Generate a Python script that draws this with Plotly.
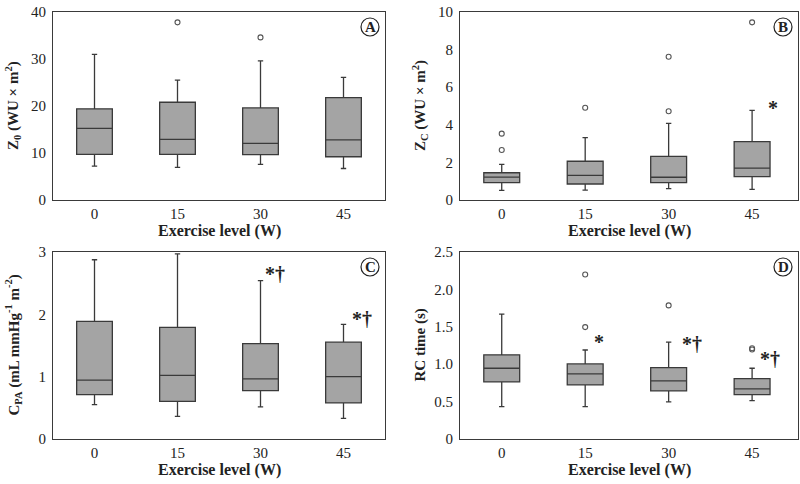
import plotly.graph_objects as go

# ---------------- data ----------------
categories = ["0", "15", "30", "45"]

# Panel A: Z0 (WU x m2)
a_low = [7.2, 6.95, 7.6, 6.7]
a_q1 = [9.7, 9.7, 9.65, 9.2]
a_med = [15.25, 12.9, 12.05, 12.8]
a_q3 = [19.4, 20.8, 19.6, 21.8]
a_high = [31.0, 25.5, 29.6, 26.1]
a_out_x = ["15", "30"]
a_out_y = [37.8, 34.6]

# Panel B: Zc (WU x m2)
b_low = [0.51, 0.53, 0.60, 0.57]
b_q1 = [0.92, 0.85, 0.92, 1.24]
b_med = [1.22, 1.31, 1.21, 1.70]
b_q3 = [1.45, 2.06, 2.32, 3.10]
b_high = [1.90, 3.32, 4.08, 4.77]
b_out_x = ["0", "0", "15", "30", "30", "45"]
b_out_y = [3.53, 2.66, 4.91, 7.62, 4.72, 9.45]

# Panel C: CPA (mL mmHg-1 m-2)
c_low = [0.552, 0.364, 0.514, 0.332]
c_q1 = [0.712, 0.605, 0.777, 0.578]
c_med = [0.943, 1.02, 0.964, 1.00]
c_q3 = [1.886, 1.79, 1.53, 1.553]
c_high = [2.876, 2.97, 2.54, 1.84]

# Panel D: RC time (s)
d_low = [0.433, 0.433, 0.496, 0.513]
d_q1 = [0.763, 0.723, 0.643, 0.594]
d_med = [0.946, 0.87, 0.777, 0.67]
d_q3 = [1.125, 1.004, 0.955, 0.808]
d_high = [1.67, 1.19, 1.295, 0.946]
d_out_x = ["15", "15", "30", "45", "45"]
d_out_y = [2.20, 1.496, 1.786, 1.214, 1.196]

# tick labels
a_ticks = [0, 10, 20, 30, 40]
b_ticks = [0, 2, 4, 6, 8, 10]
c_ticks = [0, 1, 2, 3]
d_ticks = [0, 0.5, 1.0, 1.5, 2.0, 2.5]
d_ticktext = ["0", "0.5", "1.0", "1.5", "2.0", "2.5"]

# significance marks: (category index, y, text)
marks_b = [(3.25, 4.9, "*")]
marks_c = [(2.18, 2.65, "*†"), (3.22, 1.93, "*†")]
marks_d = [(1.17, 1.30, "*"), (2.28, 1.27, "*†"), (3.22, 1.07, "*†")]

# ---------------- styling ----------------
W, H = 800, 484
FONT = "Liberation Serif"
BOX_FILL = "#a4a4a4"
BOX_LINE = "#3a3a3a"
FRAME = "#3a3a3a"

# plot area pixel boxes (left, right, top, bottom)
areas = {
    "A": (53, 385, 12, 200),
    "B": (460, 798, 12, 200),
    "C": (53, 385, 252, 439),
    "D": (460, 798, 252, 439),
}

fig = go.Figure()

panels = [
    ("A", "x", "y", a_low, a_q1, a_med, a_q3, a_high, a_out_x, a_out_y),
    ("B", "x2", "y2", b_low, b_q1, b_med, b_q3, b_high, b_out_x, b_out_y),
    ("C", "x3", "y3", c_low, c_q1, c_med, c_q3, c_high, [], []),
    ("D", "x4", "y4", d_low, d_q1, d_med, d_q3, d_high, d_out_x, d_out_y),
]

for name, xa, ya, lo, q1, med, q3, hi, ox, oy in panels:
    fig.add_trace(go.Box(
        x=categories, q1=q1, median=med, q3=q3, lowerfence=lo, upperfence=hi,
        xaxis=xa, yaxis=ya, width=0.43, whiskerwidth=0.15,
        fillcolor=BOX_FILL, line=dict(color=BOX_LINE, width=1.3),
        boxpoints=False, showlegend=False, hoverinfo="skip",
    ))
    if ox:
        fig.add_trace(go.Scatter(
            x=ox, y=oy, mode="markers", xaxis=xa, yaxis=ya,
            marker=dict(symbol="circle-open", size=5, color="#555555",
                        line=dict(width=1.1, color="#555555")),
            showlegend=False, hoverinfo="skip",
        ))

def dom(name):
    l, r, t, b = areas[name]
    return [l / W, r / W], [1 - b / H, 1 - t / H]

axis_common = dict(showline=True, mirror=True, linecolor=FRAME, linewidth=1,
                   showgrid=False, zeroline=False, automargin=False,
                   ticks="outside", tickcolor="rgba(0,0,0,0)",
                   tickfont=dict(family=FONT, size=15, color="#222"))

layout = dict(width=W, height=H, paper_bgcolor="white", plot_bgcolor="white",
              margin=dict(l=0, r=0, t=0, b=0), showlegend=False)

yinfo = {
    "A": ([0, 40], a_ticks, [str(v) for v in a_ticks]),
    "B": ([0, 10], b_ticks, [str(v) for v in b_ticks]),
    "C": ([0, 3], c_ticks, [str(v) for v in c_ticks]),
    "D": ([0, 2.5], d_ticks, d_ticktext),
}
suffix = {"A": "", "B": "2", "C": "3", "D": "4"}
for name in "ABCD":
    xd, yd = dom(name)
    s = suffix[name]
    rng, tv, tt = yinfo[name]
    layout["xaxis" + s] = dict(axis_common, domain=xd, anchor="y" + s, ticklen=0,
                               type="category", range=[-0.5, 3.55 if name in "BD" else 3.5],
                               categoryorder="array", categoryarray=categories)
    layout["yaxis" + s] = dict(axis_common, domain=yd, anchor="x" + s, ticklen=3,
                               range=rng, tickvals=tv, ticktext=tt)

fig.update_layout(**layout)

# axis titles as annotations
ytitles = {
    "A": "<b>Z<sub>0</sub> (WU × m<sup>2</sup>)</b>",
    "B": "<b>Z<sub>C</sub> (WU × m<sup>2</sup>)</b>",
    "C": "<b>C<sub>PA</sub> (mL mmHg<sup>-1</sup> m<sup>-2</sup>)</b>",
    "D": "<b>RC time (s)</b>",
}
for name in "ABCD":
    l, r, t, b = areas[name]
    fig.add_annotation(x=(l - 40) / W, y=1 - (t + b) / 2 / H, xref="paper", yref="paper",
                       text=ytitles[name], textangle=-90, showarrow=False,
                       font=dict(family=FONT, size=15, color="#222"),
                       xanchor="center", yanchor="middle")
    fig.add_annotation(x=(l + r) / 2 / W, y=1 - (b + 31) / H, xref="paper", yref="paper",
                       text="<b>Exercise level (W)</b>", showarrow=False,
                       font=dict(family=FONT, size=16, color="#222"),
                       xanchor="center", yanchor="middle")
    # circled panel letter
    s = suffix[name]
    cx = (r - 15 - l) / (r - l)
    cy = (b - (t + 15)) / (b - t)
    fig.add_shape(type="circle", xref="x" + s + " domain", yref="y" + s + " domain",
                  xsizemode="pixel", ysizemode="pixel", xanchor=cx, yanchor=cy,
                  x0=-9, x1=9, y0=-9, y1=9, line=dict(color="#222", width=1.2))
    fig.add_annotation(x=cx, y=cy, xref="x" + s + " domain", yref="y" + s + " domain",
                       text="<b>" + name + "</b>", showarrow=False,
                       font=dict(family=FONT, size=15, color="#222"),
                       xanchor="center", yanchor="middle")

for s, marks in (("2", marks_b), ("3", marks_c), ("4", marks_d)):
    for mx, my, txt in marks:
        fig.add_annotation(x=mx, y=my, xref="x" + s, yref="y" + s, text="<b>" + txt + "</b>",
                           showarrow=False, font=dict(family=FONT, size=20, color="#222"),
                           xanchor="center", yanchor="middle")

fig.write_html("out.html", config={"displayModeBar": False},
               post_script="document.body.style.margin='0';document.body.style.overflow='hidden';")
